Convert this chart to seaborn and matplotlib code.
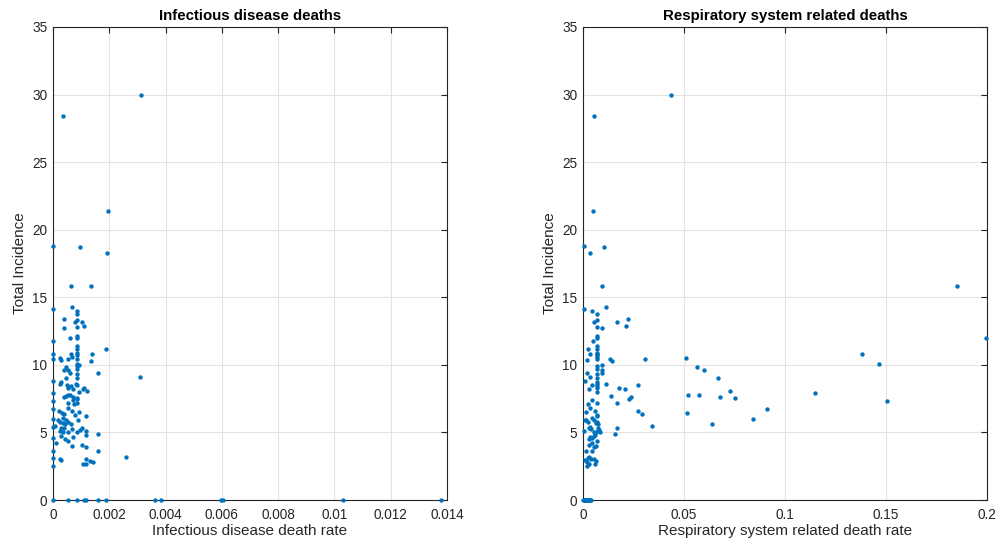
import matplotlib
matplotlib.use("Agg")
import matplotlib.pyplot as plt
import seaborn as sns
import pandas as pd

# ---- data ----
incidence = [
    30.0, 28.4, 21.4, 18.8, 18.7, 18.25, 15.84, 15.84, 14.1, 14.3,
    14.0, 13.8, 13.4, 13.2, 13.3, 13.2, 12.9, 12.7, 12.8, 12.0,
    12.1, 11.97, 11.8, 11.4, 11.2, 11.2, 10.8, 10.8, 10.9, 10.7,
    10.8, 10.4, 10.5, 10.35, 10.46, 10.56, 10.46, 10.1, 10.3, 9.87,
    9.6, 9.6, 9.4, 9.9, 10.0, 9.7, 9.3, 9.0, 9.4, 9.1,
    9.05, 8.8, 8.6, 8.7, 8.5, 8.3, 8.4, 8.2, 8.6, 8.5,
    8.2, 8.3, 8.1, 7.9, 7.8, 7.75, 7.6, 7.55, 8.0, 7.6,
    7.5, 7.7, 7.3, 7.2, 7.4, 7.1, 7.2, 6.7, 6.6, 6.45,
    6.4, 6.8, 6.6, 6.3, 6.5, 6.2, 6.0, 5.9, 5.8, 6.05,
    5.7, 5.6, 5.95, 5.75, 5.65, 5.9, 5.4, 5.5, 5.1, 5.3,
    5.0, 5.35, 5.0, 5.25, 5.05, 5.15, 5.3, 5.1, 4.85, 4.6,
    4.7, 4.5, 4.4, 4.65, 4.8, 4.2, 4.0, 4.1, 3.95, 3.6,
    3.6, 3.2, 3.1, 3.0, 2.95, 3.05, 2.85, 2.8, 2.7, 2.65,
    2.5, 0, 0, 0, 0, 0, 0, 0, 0, 0,
    0, 0, 0, 0,
]

infectious_rate = [
    0.00314, 0.00037, 0.00195, 0.0, 0.00096, 0.00193, 0.00063, 0.00134, 0.0, 0.00066,
    0.00084, 0.00084, 0.00040, 0.00079, 0.00086, 0.00102, 0.00110, 0.00039, 0.00084, 0.00060,
    0.00084, 0.00084, 0.0, 0.00084, 0.00084, 0.00190, 0.0, 0.00065, 0.00084, 0.00084,
    0.00137, 0.0, 0.00025, 0.00030, 0.00054, 0.00069, 0.00084, 0.00084, 0.00135, 0.00045,
    0.00039, 0.00054, 0.00060, 0.00084, 0.00093, 0.00084, 0.00084, 0.00084, 0.00160, 0.00310,
    0.00046, 0.0, 0.00025, 0.00030, 0.00049, 0.00054, 0.00063, 0.00070, 0.00082, 0.00086,
    0.00108, 0.00111, 0.00120, 0.0, 0.00053, 0.00060, 0.00070, 0.00084, 0.00093, 0.00039,
    0.00084, 0.00046, 0.0, 0.00055, 0.00070, 0.00076, 0.00084, 0.0, 0.00022, 0.00033,
    0.00040, 0.00052, 0.00067, 0.00078, 0.00091, 0.00118, 0.0, 0.00018, 0.00025, 0.00034,
    0.00037, 0.00042, 0.00045, 0.00054, 0.00063, 0.00090, 0.0, 0.00008, 0.00025, 0.00030,
    0.00036, 0.00040, 0.00054, 0.00066, 0.00084, 0.00096, 0.00103, 0.00118, 0.00160, 0.0,
    0.00030, 0.00043, 0.00055, 0.00070, 0.00118, 0.00009, 0.00066, 0.00102, 0.00118, 0.0,
    0.00160, 0.00260, 0.0, 0.00025, 0.00030, 0.00119, 0.00133, 0.00141, 0.00106, 0.00117,
    0.0, 0.0, 0.00052, 0.00084, 0.00111, 0.00116, 0.00161, 0.00190, 0.00362, 0.00383,
    0.00598, 0.00605, 0.01030, 0.01380,
]

respiratory_rate = [
    0.0437, 0.0056, 0.0051, 0.0005, 0.0104, 0.0035, 0.0094, 0.1850, 0.0006, 0.0114,
    0.0046, 0.0069, 0.0224, 0.0167, 0.0069, 0.0053, 0.0213, 0.0093, 0.0069, 0.1995,
    0.0069, 0.0069, 0.0051, 0.0069, 0.0026, 0.0069, 0.1380, 0.0035, 0.0069, 0.0069,
    0.0069, 0.0307, 0.0510, 0.0018, 0.0134, 0.0069, 0.0069, 0.1465, 0.0142, 0.0565,
    0.0600, 0.0096, 0.0021, 0.0069, 0.0096, 0.0069, 0.0069, 0.0670, 0.0096, 0.0035,
    0.0069, 0.0010, 0.0112, 0.0069, 0.0274, 0.0180, 0.0069, 0.0030, 0.0069, 0.0045,
    0.0210, 0.0069, 0.0730, 0.1150, 0.0520, 0.0574, 0.0680, 0.0750, 0.0069, 0.0240,
    0.0230, 0.0140, 0.1505, 0.0170, 0.0045, 0.0025, 0.0069, 0.0910, 0.0270, 0.0515,
    0.0290, 0.0035, 0.0060, 0.0069, 0.0015, 0.0069, 0.0840, 0.0008, 0.0025, 0.0045,
    0.0064, 0.0640, 0.0055, 0.0069, 0.0075, 0.0015, 0.0035, 0.0340, 0.0005, 0.0170,
    0.0055, 0.0075, 0.0084, 0.0040, 0.0065, 0.0080, 0.0030, 0.0072, 0.0160, 0.0045,
    0.0055, 0.0030, 0.0068, 0.0035, 0.0060, 0.0045, 0.0062, 0.0028, 0.0052, 0.0016,
    0.0045, 0.0032, 0.0025, 0.0038, 0.0012, 0.0055, 0.0062, 0.0020, 0.0060, 0.0028,
    0.0022, 0.0000, 0.0005, 0.0010, 0.0015, 0.0020, 0.0025, 0.0030, 0.0035, 0.0040,
    0.0008, 0.0012, 0.0018, 0.0028,
]

titles = ["Infectious disease deaths", "Respiratory system related deaths"]
xlabels = ["Infectious disease death rate", "Respiratory system related death rate"]
ylabel = "Total Incidence"
left_xticks = [0, 0.002, 0.004, 0.006, 0.008, 0.010, 0.012, 0.014]
left_xticklabels = ["0", "0.002", "0.004", "0.006", "0.008", "0.01", "0.012", "0.014"]
right_xticks = [0, 0.05, 0.1, 0.15, 0.2]
right_xticklabels = ["0", "0.05", "0.1", "0.15", "0.2"]
yticks = [0, 5, 10, 15, 20, 25, 30, 35]

df = pd.DataFrame({
    "incidence": incidence,
    "infectious": infectious_rate,
    "respiratory": respiratory_rate,
})

sns.set_theme(style="white")
plt.rcParams["font.family"] = ["Liberation Sans", "DejaVu Sans"]

fig = plt.figure(figsize=(10.04, 5.44), dpi=100)
ax1 = fig.add_axes([53 / 1004, 44 / 544, 394 / 1004, 473 / 544])
ax2 = fig.add_axes([583 / 1004, 44 / 544, 404 / 1004, 473 / 544])

blue = "#0072BD"
axis_col = "#262626"

configs = [
    (ax1, "infectious", (0, 0.014), left_xticks, left_xticklabels),
    (ax2, "respiratory", (0, 0.2), right_xticks, right_xticklabels),
]
for i, (ax, col, xlim, xt, xtl) in enumerate(configs):
    sns.scatterplot(data=df, x=col, y="incidence", ax=ax, color=blue,
                    s=10, linewidth=0, marker="o", clip_on=False, zorder=3)
    ax.set_xlim(*xlim)
    ax.set_ylim(0, 35)
    ax.set_xticks(xt)
    ax.set_xticklabels(xtl)
    ax.set_yticks(yticks)
    ax.grid(True, color="#E3E3E3", linewidth=0.8)
    ax.set_axisbelow(True)
    for sp in ax.spines.values():
        sp.set_visible(True)
        sp.set_color(axis_col)
        sp.set_linewidth(0.8)
    ax.tick_params(direction="in", top=True, right=True, length=4,
                   width=0.8, color=axis_col, labelsize=9.8,
                   labelcolor=axis_col, pad=4)
    ax.tick_params(axis="x", pad=6)
    ax.set_title(titles[i], fontsize=10.8, fontweight="bold", color="black", pad=5)
    ax.set_xlabel(xlabels[i], fontsize=11, color=axis_col, labelpad=1)
    ax.set_ylabel(ylabel, fontsize=11, color=axis_col, labelpad=4)

fig.savefig("out.png", dpi=100)
